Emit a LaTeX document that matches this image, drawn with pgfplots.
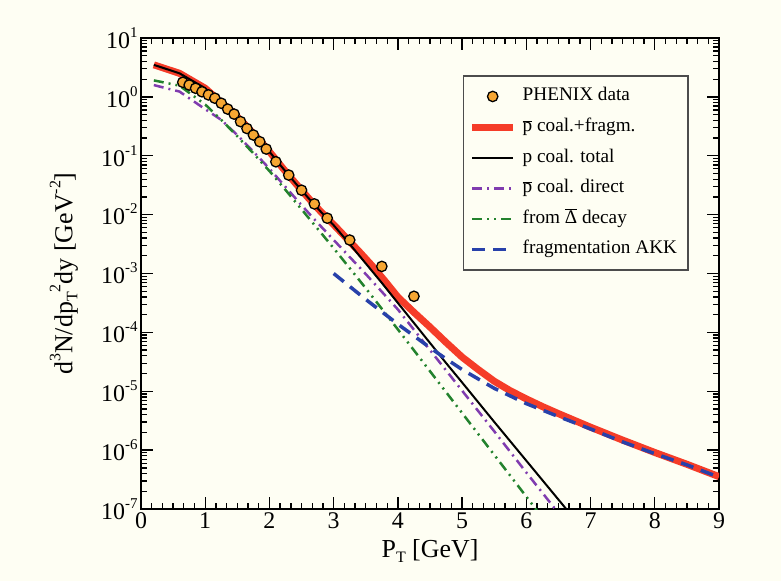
\documentclass[border=0pt]{standalone}
\usepackage{fontspec}
\setmainfont{Liberation Serif}
\usepackage{pgfplots}
\pgfplotsset{compat=1.18}
\definecolor{bg}{RGB}{254,254,243}
\definecolor{cred}{RGB}{245,60,40}
\definecolor{corange}{RGB}{246,166,50}
\definecolor{cpurple}{RGB}{128,60,175}
\definecolor{cgreen}{RGB}{35,130,45}
\definecolor{cblue}{RGB}{40,65,170}
\newcommand{\tsup}[1]{\raisebox{11bp}{\fontsize{15}{15}\selectfont #1}}
\newcommand{\lsup}[1]{\raisebox{12bp}{\fontsize{16}{16}\selectfont #1}}
\newcommand{\lsub}[1]{\raisebox{-5bp}{\fontsize{16}{16}\selectfont #1}}
\newcommand{\ovl}[1]{$\overline{\hbox{#1}}$}
\begin{document}
\begin{tikzpicture}
\fill[bg] (0,0) rectangle (781bp,581bp);
\begin{axis}[
  at={(141bp,72bp)}, anchor=south west,
  scale only axis, width=578bp, height=471bp,
  xmin=0, xmax=9, ymode=log, ymin=1e-7, ymax=10,
  axis line style={line width=1.5bp},
  tick style={line width=1.3bp, black},
  major tick length=12bp, minor tick length=6bp,
  tick align=inside,
  xtick={0,1,2,3,4,5,6,7,8,9},
  xticklabels={0,1,2,3,4,5,6,7,8,9},
  minor x tick num=5,
  ytick={1e-7,1e-6,1e-5,1e-4,1e-3,1e-2,1e-1,1,10},
  yticklabels={10\tsup{-7},10\tsup{-6},10\tsup{-5},10\tsup{-4},10\tsup{-3},10\tsup{-2},10\tsup{-1},10\tsup{0},10\tsup{1}},
  minor ytick={2e-7,3e-7,4e-7,5e-7,6e-7,7e-7,8e-7,9e-7,
    2e-6,3e-6,4e-6,5e-6,6e-6,7e-6,8e-6,9e-6,
    2e-5,3e-5,4e-5,5e-5,6e-5,7e-5,8e-5,9e-5,
    2e-4,3e-4,4e-4,5e-4,6e-4,7e-4,8e-4,9e-4,
    2e-3,3e-3,4e-3,5e-3,6e-3,7e-3,8e-3,9e-3,
    2e-2,3e-2,4e-2,5e-2,6e-2,7e-2,8e-2,9e-2,
    2e-1,3e-1,4e-1,5e-1,6e-1,7e-1,8e-1,9e-1,
    2,3,4,5,6,7,8,9},
  ticklabel style={font=\fontsize{24}{28}\selectfont},
  xlabel={P\lsub{T} [GeV]},
  ylabel={d\lsup{3}N/dp\lsub{T}\lsup{2}dy [GeV\lsup{-2}]},
  xlabel style={font=\fontsize{26}{30}\selectfont, at={(axis description cs:0.5,-0.1019)}, anchor=base},
  ylabel style={font=\fontsize{26}{30}\selectfont, at={(axis description cs:-0.1332,0.5)}, anchor=center},
  legend image code/.code={\draw[mark repeat=2,mark phase=2,#1] plot coordinates {(0bp,0bp) (20.5bp,0bp) (41bp,0bp)};},
  legend cell align=left,
  legend style={at={(axis description cs:0.557,0.921)}, anchor=north west,
    fill=bg, draw=black!70, line width=1.5bp,
    font=\fontsize{19.3}{22}\selectfont,
    inner xsep=5bp, inner ysep=11bp,
    row sep=11.6bp, column sep=0bp,
    nodes={inner xsep=6bp, inner ysep=0bp, text height=14bp, text depth=5bp}},
]
\addplot[only marks, mark=*, mark size=5.2bp, mark options={fill=corange, draw=black, line width=1.3bp}] table {
x y
0.65 1.77
0.75 1.59
0.85 1.40
0.95 1.22
1.05 1.08
1.15 0.95
1.25 0.78
1.35 0.62
1.45 0.51
1.55 0.38
1.65 0.29
1.75 0.225
1.85 0.173
1.95 0.13
2.1 0.079
2.3 0.047
2.5 0.026
2.7 0.0152
2.9 0.0087
3.25 0.0037
3.75 0.00132
4.25 0.00041
};
\addlegendentry{PHENIX data}
\addplot[cred, line width=7bp] table {
x y
0.2 3.50
0.6 2.51
1.0 1.40
1.2 0.891
1.4 0.589
1.6 0.355
1.8 0.209
2.0 0.1175
2.2 0.0631
2.4 0.0347
2.6 0.0195
2.8 0.0112
3.0 6.76e-3
3.2 3.98e-3
3.4 2.34e-3
3.6 1.35e-3
3.8 7.41e-4
4.0 3.98e-4
4.25 2.19e-4
4.5 1.23e-4
4.75 6.76e-5
5.0 3.80e-5
5.25 2.34e-5
5.5 1.48e-5
5.75 1.02e-5
6.0 7.41e-6
6.25 5.50e-6
6.5 4.17e-6
7.0 2.45e-6
7.5 1.48e-6
8.0 9.12e-7
8.5 5.75e-7
9.0 3.55e-7
};
\addlegendentry{\ovl{p} coal.+fragm.}
\addplot[black, line width=2bp] table {
x y
0.2 3.50
0.6 2.51
1.0 1.40
1.2 0.891
1.4 0.589
1.6 0.355
1.8 0.209
2.0 0.1175
2.2 0.0631
2.4 0.0347
2.6 0.0195
2.8 0.0112
3.0 6.61e-3
3.25 3.16e-3
3.5 1.48e-3
3.75 6.92e-4
4.0 3.16e-4
4.25 1.445e-4
4.5 6.61e-5
4.75 3.02e-5
5.0 1.41e-5
5.5 3.02e-6
6.0 6.61e-7
6.5 1.445e-7
6.75 6.76e-8
};
\addlegendentry{p coal. total}
\addplot[cpurple, line width=2.5bp, dash pattern=on 10bp off 5bp on 2bp off 5bp] table {
x y
0.2 1.585
0.6 1.23
1.0 0.617
1.25 0.407
1.5 0.224
1.75 0.1175
2.0 0.0603
2.25 0.0295
2.5 0.01445
2.75 7.24e-3
3.0 3.72e-3
3.25 1.905e-3
3.5 9.77e-4
3.75 4.90e-4
4.0 2.45e-4
4.5 5.01e-5
5.0 1.023e-5
5.5 2.09e-6
6.0 4.17e-7
6.5 8.51e-8
};
\addlegendentry{\ovl{p} coal. direct}
\addplot[cgreen, line width=2.5bp, dash pattern=on 10bp off 5bp on 2bp off 5bp on 2bp off 5bp] table {
x y
0.2 1.905
0.6 1.55
1.0 0.741
1.25 0.407
1.5 0.214
1.75 0.1096
2.0 0.0550
2.25 0.0263
2.5 0.0123
2.75 5.75e-3
3.0 2.69e-3
3.25 1.23e-3
3.5 5.62e-4
3.75 2.51e-4
4.0 1.122e-4
4.5 2.19e-5
5.0 4.27e-6
5.5 8.32e-7
6.0 1.62e-7
6.25 7.08e-8
};
\addlegendentry{from \ovl{Δ} decay}
\addplot[cblue, line width=3.5bp, dash pattern=on 13bp off 8bp] table {
x y
3.0 1.0e-3
3.25 6.03e-4
3.5 3.63e-4
3.75 2.24e-4
4.0 1.38e-4
4.25 8.71e-5
4.5 5.50e-5
4.75 3.55e-5
5.0 2.34e-5
5.25 1.62e-5
5.5 1.122e-5
5.75 8.32e-6
6.0 6.17e-6
6.5 3.72e-6
7.0 2.29e-6
7.5 1.38e-6
8.0 8.71e-7
8.5 5.62e-7
9.0 3.47e-7
};
\addlegendentry{fragmentation AKK}
\end{axis}
\end{tikzpicture}
\end{document}
